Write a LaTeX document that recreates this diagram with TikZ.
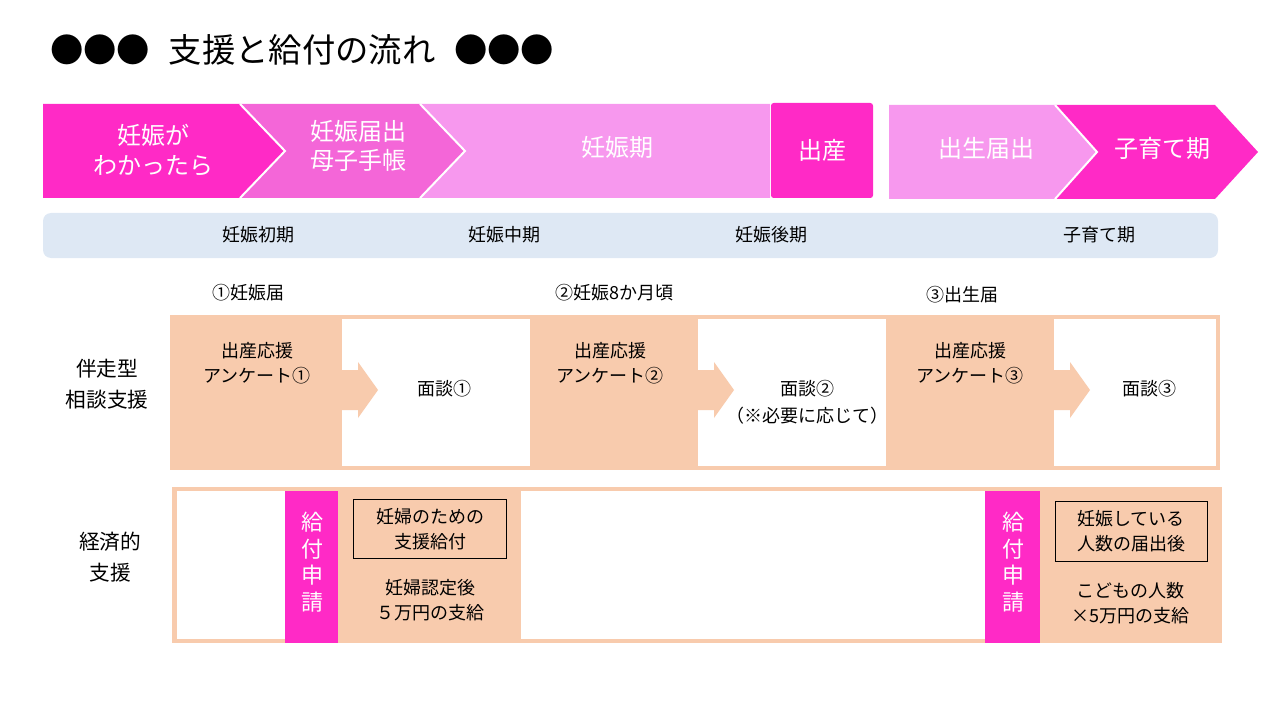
\documentclass[tikz,border=0pt]{standalone}
\usepackage{fontspec}
\setmainfont{Noto Sans CJK JP}
\definecolor{mag}{HTML}{FF2AC6}
\definecolor{mid}{HTML}{F466D8}
\definecolor{lite}{HTML}{F798EE}
\definecolor{bar}{HTML}{DEE8F4}
\definecolor{org}{HTML}{F8CBAD}
\tikzset{
 chev/.style={draw=white,line width=1.5pt},
 wt/.style={text=white,font=\fontsize{18}{22}\selectfont,align=center},
 lab/.style={font=\fontsize{13.5}{19}\selectfont,align=center},
 side/.style={font=\fontsize{15.5}{23}\selectfont,align=center},
 vt/.style={text=white,font=\fontsize{16.5}{20}\selectfont,align=center},
}
\begin{document}
\begin{tikzpicture}[x=0.75pt,y=-0.75pt]
\useasboundingbox (0,0) rectangle (1280,720);
\node[anchor=west,font=\fontsize{25}{30}\selectfont,inner sep=0pt] (title) at (50,50) {●●●\hspace{14pt}支援と給付の流れ\hspace{14pt}●●●};
% chevrons
\fill[lite] (420,104)--(770,104)--(770,198)--(420,198)--(465,151)--cycle;
\fill[mid] (240,104)--(420,104)--(465,151)--(420,198)--(240,198)--(285,151)--cycle;
\fill[mag] (43,104)--(240,104)--(285,151)--(240,198)--(43,198)--cycle;
\draw[white,line width=1.5pt] (240,104)--(285,151)--(240,198) (420,104)--(465,151)--(420,198);
\fill[mag,rounded corners=2pt] (771,103) rectangle (873,198);
\fill[lite] (889,105)--(1055,105)--(1097,152)--(1055,199)--(889,199)--cycle;
\fill[mag] (1055,105)--(1215,105)--(1258,152)--(1215,199)--(1055,199)--(1097,152)--cycle;
\draw[white,line width=1.5pt] (1055,105)--(1097,152)--(1055,199);
\node[wt] (c1) at (153,150) {妊娠が\\わかったら};
\node[wt] (c2) at (358,146) {妊娠届出\\母子手帳};
\node[wt] (c3) at (617,147) {妊娠期};
\node[wt] (c4) at (822,150) {出産};
\node[wt] (c5) at (986,148) {出生届出};
\node[wt] (c6) at (1162,148) {子育て期};
% bar
\fill[bar,rounded corners=6pt] (43,213) rectangle (1218,258);
\node[lab] (p1) at (258,235) {妊娠初期};
\node[lab] (p2) at (504,235) {妊娠中期};
\node[lab] (p3) at (771,235) {妊娠後期};
\node[lab] (p4) at (1099,235) {子育て期};
\node[lab] (t1) at (248,293) {①妊娠届};
\node[lab] (t2) at (614,293) {②妊娠8か月頃};
\node[lab] (t3) at (962,295) {③出生届};
% row1
\node[side] (r1) at (107,384) {伴走型\\相談支援};
\fill[org] (170,315) rectangle (1220,470);
\foreach \a/\b in {342/530,698/886,1054/1216}{
 \fill[white] (\a,319) rectangle (\b,466);
 \fill[org] (\a,370)--(\a+16,370)--(\a+16,362)--(\a+36,390)--(\a+16,418)--(\a+16,410)--(\a,410)--cycle;
}
\node[lab] (a1) at (257,363) {出産応援\\アンケート①};
\node[lab] (a2) at (610,363) {出産応援\\アンケート②};
\node[lab] (a3) at (970,363) {出産応援\\アンケート③};
\node[lab] (m1) at (444,389) {面談①};
\node[lab] (m2) at (807,389) {面談②};
\node[lab] (m2b) at (807,416) {（※必要に応じて）};
\node[lab] (m3) at (1149,389) {面談③};
% row2
\node[side] (r2) at (110,557) {経済的\\支援};
\fill[org] (172,487) rectangle (1222,643);
\fill[white] (177,491) rectangle (285,639);
\fill[white] (521,491) rectangle (985,639);
\fill[mag] (285,491) rectangle (338,643);
\fill[mag] (985,491) rectangle (1040,643);
\node[vt] (g1) at (312,562) {給\\付\\申\\請};
\node[vt] (g2) at (1013,562) {給\\付\\申\\請};
\node[lab,draw=black,line width=0.6pt,minimum width=115pt,minimum height=44pt] (b1) at (430,529) {妊婦のための\\支援給付};
\node[lab] (b1t) at (430,600) {妊婦認定後\\５万円の支給};
\node[lab,draw=black,line width=0.6pt,minimum width=114pt,minimum height=45pt] (b2) at (1131,531) {妊娠している\\人数の届出後};
\node[lab] (b2t) at (1130,603) {こどもの人数\\×5万円の支給};
\end{tikzpicture}
\end{document}
